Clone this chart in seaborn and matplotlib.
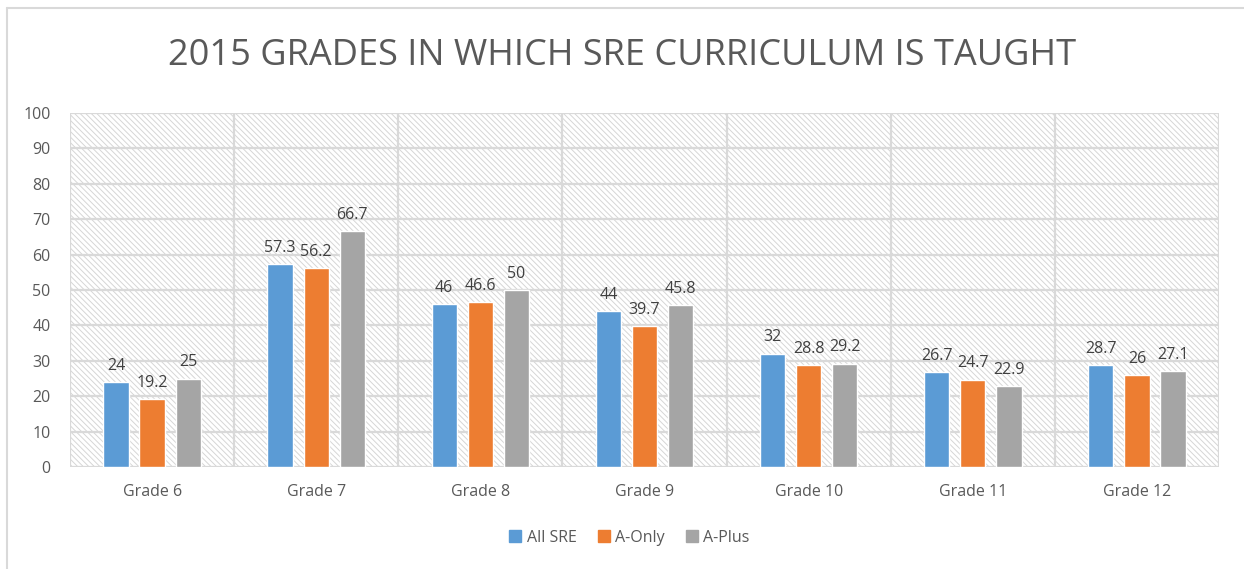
import matplotlib
matplotlib.use("Agg")
import matplotlib.pyplot as plt
from matplotlib.patches import Rectangle
from matplotlib.lines import Line2D
import seaborn as sns
import pandas as pd

# values
grades = ['Grade 6', 'Grade 7', 'Grade 8', 'Grade 9', 'Grade 10', 'Grade 11', 'Grade 12']
all_sre = [24, 57.3, 46, 44, 32, 26.7, 28.7]
a_only = [19.2, 56.2, 46.6, 39.7, 28.8, 24.7, 26]
a_plus = [25, 66.7, 50, 45.8, 29.2, 22.9, 27.1]
series = ['All SRE', 'A-Only', 'A-Plus']
colors = ['#5B9BD5', '#ED7D31', '#A5A5A5']

df = pd.DataFrame({'Grade': grades, 'All SRE': all_sre, 'A-Only': a_only, 'A-Plus': a_plus})
long = df.melt(id_vars='Grade', var_name='Series', value_name='Value')

sns.set_style('white')
plt.rcParams['font.family'] = ['Open Sans', 'DejaVu Sans']
plt.rcParams['hatch.linewidth'] = 0.7
txt = '#595959'

fig = plt.figure(figsize=(12.44, 5.69), dpi=100)
ax = fig.add_axes([70 / 1244, 1 - 467 / 569, (1219 - 70) / 1244, (467 - 113) / 569])

# hatched plot-area background
ax.add_patch(Rectangle((0, 0), 1, 1, transform=ax.transAxes, facecolor='white',
                       edgecolor='#d6d6d6', hatch='\\' * 6, linewidth=0, zorder=0))

sns.barplot(data=long, x='Grade', y='Value', hue='Series', hue_order=series,
            palette=colors, width=0.66, gap=0.3, saturation=1, ax=ax, zorder=3,
            legend=False)

ax.set_xlim(-0.5, len(grades) - 0.5)
ax.set_ylim(0, 100)
ax.set_yticks(range(0, 101, 10))
for y in range(0, 101, 10):
    ax.axhline(y, color='#d9d9d9', lw=1.6, zorder=1)
for x in range(len(grades) + 1):
    ax.axvline(x - 0.5, color='#d9d9d9', lw=1.6, zorder=1)
for s in ax.spines.values():
    s.set_visible(False)

for cont in ax.containers:
    labels = [('%g' % b.get_height()) for b in cont]
    ax.bar_label(cont, labels=labels, padding=6, fontsize=11.5, color='#404040')

ax.set_xlabel('')
ax.set_ylabel('')
ax.tick_params(axis='both', length=0, labelsize=11.5, labelcolor=txt)
ax.tick_params(axis='x', pad=12)
ax.tick_params(axis='y', pad=14)

fig.suptitle('2015 GRADES IN WHICH SRE CURRICULUM IS TAUGHT', y=1 - 56 / 569, va='center',
             fontsize=26, color=txt, fontweight='normal')

handles = [Line2D([], [], marker='s', linestyle='', markersize=8, color=c) for c in colors]
fig.legend(handles, series, loc='center', bbox_to_anchor=(0.505, 1 - 538 / 569), ncol=3,
           frameon=False, fontsize=11.5, labelcolor=txt, handletextpad=0.2,
           columnspacing=1.2, handlelength=1)

# outer chart border (left and top visible)
fig.add_artist(Line2D([7 / 1244, 7 / 1244], [0, 1 - 8 / 569], transform=fig.transFigure,
                      color='#d9d9d9', lw=1.5))
fig.add_artist(Line2D([7 / 1244, 1], [1 - 8 / 569, 1 - 8 / 569], transform=fig.transFigure,
                      color='#d9d9d9', lw=1.5))

fig.savefig('out.png', dpi=100)
